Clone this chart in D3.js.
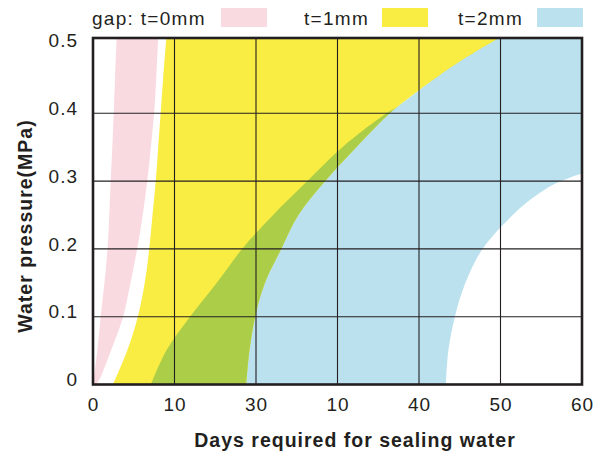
<!DOCTYPE html>
<html lang="en">
<head>
<meta charset="utf-8">
<title>Days required for sealing water</title>
<script src="https://d3js.org/d3.v7.min.js"></script>
<style>
  body { margin: 0; background: #fff; }
  svg { display: block; font-family: 'Liberation Sans', Arial, sans-serif; }
</style>
</head>
<body>
<div id="chart"></div>
<script>

/* Data */
/* ======================== */

// each edge is [days, pressure (MPa)], in order of rising pressure
var pinkLeft   = [[0,0],[0.53,0.05],[0.94,0.1],[1.4,0.15],[1.78,0.2],[2.0,0.25],[2.17,0.3],[2.37,0.35],[2.54,0.4],[2.7,0.45],[2.9,0.511]];
var pinkRight  = [[0.4,0],[0.9,0.01],[2.2,0.05],[3.7,0.1],[4.6,0.15],[5.42,0.2],[6.1,0.25],[6.66,0.3],[7.1,0.35],[7.5,0.4],[7.75,0.45],[8.0,0.511]];
var yellowLeft = [[2.45,0],[4.2,0.05],[5.5,0.1],[6.35,0.15],[6.9,0.2],[7.3,0.25],[7.7,0.3],[8.0,0.35],[8.3,0.4],[8.6,0.45],[9.0,0.511]];
var yellowRight = [[18.8,0],[19.2,0.05],[19.9,0.1],[21.1,0.15],[23.1,0.2],[25.2,0.25],[28.5,0.3],[32.3,0.35],[36.4,0.4],[37.4,0.41],[41.8,0.45],[44.8,0.475],[49.8,0.511]];
var blueLeft   = [[7.1,0],[9.0,0.05],[11.9,0.1],[15.2,0.15],[18.3,0.2],[22.1,0.25],[26.3,0.3],[30.6,0.35],[36.0,0.4],[37.4,0.41],[41.8,0.45],[44.8,0.475],[49.8,0.511]];
var blueRight  = [[43.3,0],[43.6,0.05],[44.4,0.1],[45.7,0.15],[47.8,0.2],[51.5,0.25],[53.6,0.272],[56.5,0.295],[58.5,0.305],[60,0.311]];

var dayTicks = [0, 10, 20, 30, 40, 50, 60];
var dayTickLabels = ['0', '10', '30', '10', '40', '50', '60'];
var pressureTicks = [0, 0.1, 0.2, 0.3, 0.4, 0.5];
var pressureTickLabels = ['0', '0.1', '0.2', '0.3', '0.4', '0.5'];

var legendLabels = ['gap: t=0mm', 't=1mm', 't=2mm'];
var legendColors = ['#fadae1', '#f9ec42', '#bbe1ef'];
var overlapColor = '#accd48';


/* Set up */
/* ====== */

var width = 608,
    height = 454,
    ink = '#231f20',
    pTop = 0.511;

var svg = d3.select('#chart').append('svg')
    .attr('width', width)
    .attr('height', height);

var x = d3.scaleLinear().domain([0, 60]).range([93, 582]);
var y = d3.scaleLinear().domain([0, pTop]).range([384.5, 38]);

var edge = d3.line()
    .x(function(d) { return x(d[0]); })
    .y(function(d) { return y(d[1]); })
    .curve(d3.curveCatmullRom.alpha(0.5));

// left edge going up, straight corners, right edge coming down
function region(left, right, corners) {
  var mid = (corners || []).map(function(c) { return 'L' + x(c[0]) + ',' + y(c[1]); }).join('');
  return edge(left) + mid + 'L' + edge(right.slice().reverse()).slice(1) + 'Z';
}

var pinkPath = region(pinkLeft, pinkRight),
    yellowPath = region(yellowLeft, yellowRight),
    bluePath = region(blueLeft, blueRight, [[60, pTop]]);

var defs = svg.append('defs');

defs.append('clipPath').attr('id', 'plot-clip')
  .append('rect')
    .attr('x', x(0)).attr('y', y(pTop))
    .attr('width', x(60) - x(0)).attr('height', y(0) - y(pTop));

defs.append('clipPath').attr('id', 'blue-clip')
  .append('path')
    .attr('d', bluePath);


/* Regions */
/* ======= */

var plot = svg.append('g').attr('clip-path', 'url(#plot-clip)');

plot.append('path').attr('d', pinkPath).attr('fill', legendColors[0]);
plot.append('path').attr('d', bluePath).attr('fill', legendColors[2]);
plot.append('path').attr('d', yellowPath).attr('fill', legendColors[1]);

// overlap of t=1mm and t=2mm
plot.append('g').attr('clip-path', 'url(#blue-clip)')
  .append('path').attr('d', yellowPath).attr('fill', overlapColor);


/* Grid and frame */
/* ============== */

var grid = svg.append('g').attr('stroke', ink).attr('stroke-width', 1.1);

grid.selectAll('.vgrid')
  .data(dayTicks.slice(1, -1))
  .join('line')
    .attr('x1', function(d) { return x(d); }).attr('x2', function(d) { return x(d); })
    .attr('y1', y(pTop)).attr('y2', y(0));

grid.selectAll('.hgrid')
  .data(pressureTicks.slice(1, -1))
  .join('line')
    .attr('x1', x(0)).attr('x2', x(60))
    .attr('y1', function(d) { return y(d); }).attr('y2', function(d) { return y(d); });

svg.append('rect')
    .attr('x', x(0)).attr('y', y(pTop))
    .attr('width', x(60) - x(0)).attr('height', y(0) - y(pTop))
    .attr('fill', 'none')
    .attr('stroke', ink)
    .attr('stroke-width', 2.6);


/* Axes */
/* ==== */

var xAxis = svg.append('g')
    .attr('transform', 'translate(0,' + (y(0) + 10) + ')')
    .call(d3.axisBottom(x)
      .tickValues(dayTicks)
      .tickSize(0)
      .tickFormat(function(d, i) { return dayTickLabels[i]; }));

var yAxis = svg.append('g')
    .attr('transform', 'translate(' + (x(0) - 12) + ',0)')
    .call(d3.axisLeft(y)
      .tickValues(pressureTicks)
      .tickSize(0)
      .tickFormat(function(d, i) { return pressureTickLabels[i]; }));

[xAxis, yAxis].forEach(function(ax) {
  ax.select('.domain').remove();
  ax.selectAll('text')
    .attr('fill', ink)
    .style('font-family', "'Liberation Sans', Arial, sans-serif")
    .style('font-size', '19px')
    .style('letter-spacing', '1px');
});
yAxis.selectAll('text').attr('dy', '0.06em');

svg.append('text')
    .attr('x', 355).attr('y', 447)
    .attr('text-anchor', 'middle')
    .attr('fill', ink)
    .style('font-size', '19.5px')
    .style('font-weight', 'bold')
    .style('letter-spacing', '1px')
    .text('Days required for sealing water');

svg.append('text')
    .attr('transform', 'translate(32,226) rotate(-90)')
    .attr('text-anchor', 'middle')
    .attr('fill', ink)
    .style('font-size', '19.5px')
    .style('font-weight', 'bold')
    .style('letter-spacing', '1px')
    .text('Water pressure(MPa)');


/* Legend */
/* ====== */

var legendText = [92, 304, 458],
    legendBox = [221, 382, 537];

var legend = svg.append('g');

legend.selectAll('text')
  .data(legendLabels)
  .join('text')
    .attr('x', function(d, i) { return legendText[i]; })
    .attr('y', 25)
    .attr('fill', ink)
    .style('font-size', '19px')
    .style('letter-spacing', '1.3px')
    .text(function(d) { return d; });

legend.selectAll('rect')
  .data(legendColors)
  .join('rect')
    .attr('x', function(d, i) { return legendBox[i]; })
    .attr('y', 8)
    .attr('width', 46)
    .attr('height', 19)
    .attr('fill', function(d) { return d; });

</script>
</body>
</html>
